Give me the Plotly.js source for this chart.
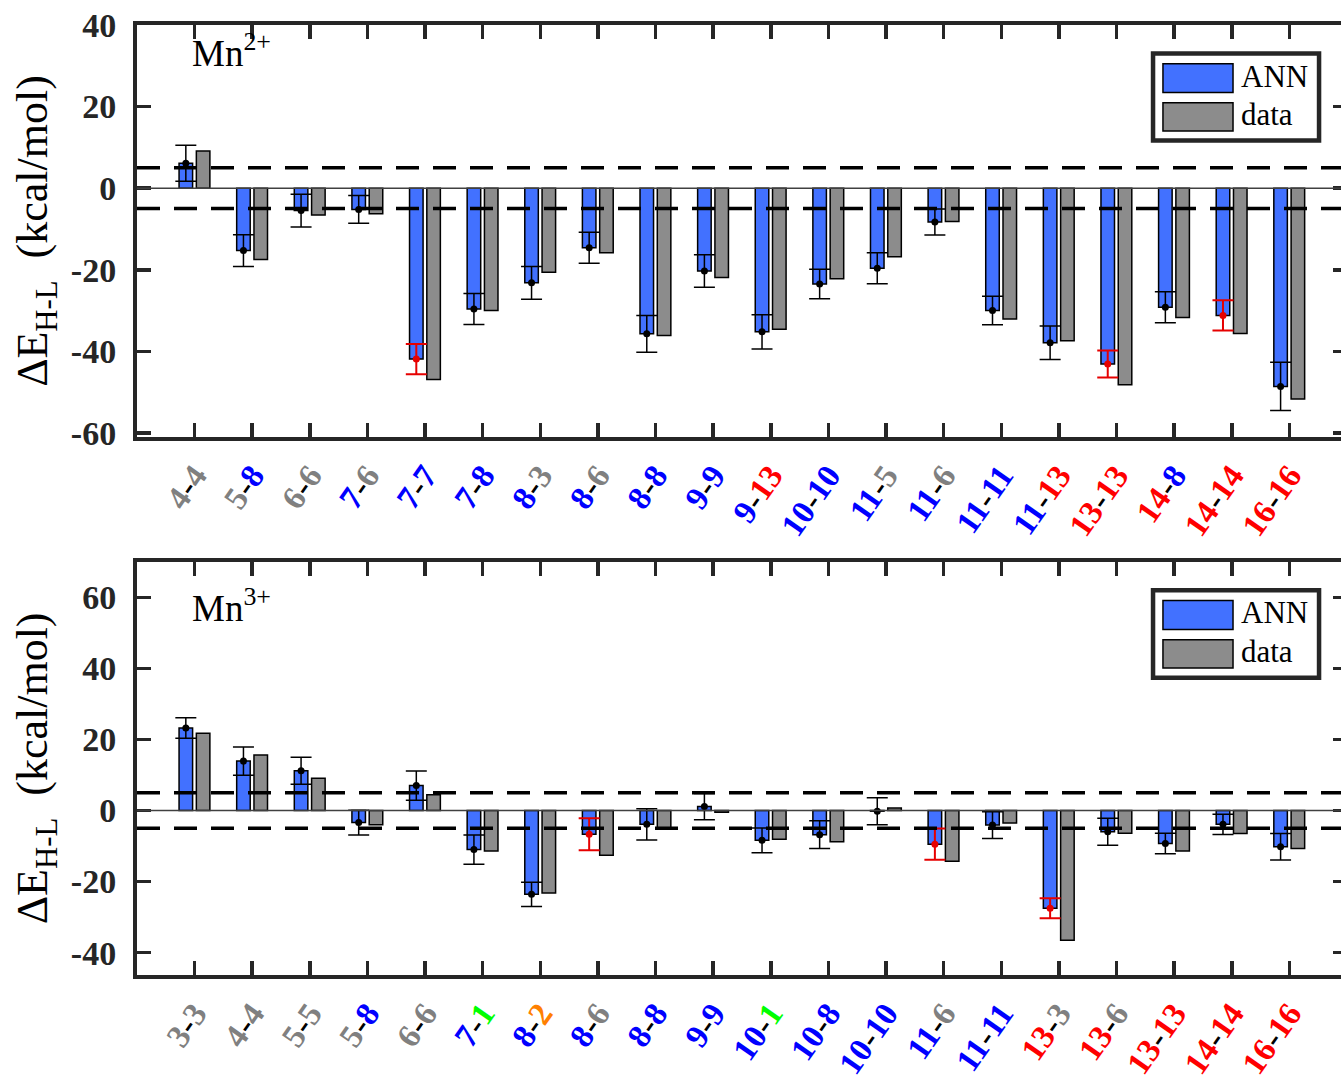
<!DOCTYPE html>
<html>
<head>
<meta charset="utf-8">
<script src="https://cdn.plot.ly/plotly-3.0.1.min.js"></script>
<style>
html,body{margin:0;padding:0;background:#fff;overflow:hidden;}
#chart{width:1352px;height:1085px;}
</style>
</head>
<body>
<div id="chart"></div>
<script>
// ---------- DATA: Mn2+ panel ----------
const topFirst   = ['4','5','6','7','7','7','8','8','8','9','9','10','11','11','11','11','13','14','14','16'];
const topSecond  = ['4','8','6','6','7','8','3','6','8','9','13','10','5','6','11','13','13','8','14','16'];
const topFirstColor  = ['gray','gray','gray','blue','blue','blue','blue','blue','blue','blue','blue','blue','blue','blue','blue','blue','red','red','red','red'];
const topSecondColor = ['gray','blue','gray','gray','blue','blue','gray','gray','blue','blue','red','blue','gray','gray','blue','red','red','blue','red','red'];
const topANN  = [6.1,-15.3,-5.5,-5.2,-41.9,-29.6,-23.2,-14.6,-35.7,-20.3,-35.2,-23.5,-19.6,-8.3,-30.0,-37.9,-43.1,-29.2,-31.2,-48.6];
const topErr  = [4.4,3.9,4.0,3.4,3.7,3.8,4.0,3.8,4.5,4.0,4.2,3.6,3.8,3.2,3.5,4.1,3.3,3.8,3.7,5.9];
const topData = [9.1,-17.5,-6.6,-6.3,-46.9,-30.0,-20.6,-15.8,-36.1,-21.9,-34.6,-22.2,-16.8,-8.2,-32.1,-37.4,-48.2,-31.7,-35.6,-51.7];
const topErrColor = ['k','k','k','k','r','k','k','k','k','k','k','k','k','k','k','k','r','k','r','k'];
const topYTicks = [-60,-40,-20,0,20,40];

// ---------- DATA: Mn3+ panel ----------
const botFirst   = ['3','4','5','5','6','7','8','8','8','9','10','10','10','11','11','13','13','13','14','16'];
const botSecond  = ['3','4','5','8','6','1','2','6','8','9','1','8','10','6','11','3','6','13','14','16'];
const botFirstColor  = ['gray','gray','gray','gray','gray','blue','blue','blue','blue','blue','blue','blue','blue','blue','blue','red','red','red','red','red'];
const botSecondColor = ['gray','gray','gray','blue','gray','green','orange','gray','blue','blue','green','blue','blue','gray','blue','gray','gray','red','red','red'];
const botANN  = [23.2,13.9,11.2,-3.4,7.0,-11.0,-23.6,-6.7,-3.9,1.1,-8.4,-6.8,-0.2,-9.5,-4.1,-27.5,-6.0,-9.3,-3.9,-10.2];
const botErr  = [2.9,4.0,3.8,3.5,4.1,4.1,3.4,4.5,4.4,3.7,3.5,3.9,3.8,4.4,3.75,2.8,3.8,2.9,2.85,3.75];
const botData = [21.7,15.6,9.1,-4.0,4.4,-11.4,-23.2,-12.6,-4.9,-0.5,-8.1,-8.8,0.7,-14.3,-3.5,-36.5,-6.4,-11.4,-6.5,-10.7];
const botErrColor = ['k','k','k','k','k','k','k','r','k','k','k','k','k','r','k','r','k','k','k','k'];
const botYTicks = [-40,-20,0,20,40,60];

const panelLabels = ['Mn<sup>2+</sup>','Mn<sup>3+</sup>'];
const seriesNames = ['ANN','data'];
const threshold = 5;

// ---------- STYLE ----------
const labelColors = {gray:'#808080', blue:'#0000FF', red:'#FF0000', green:'#00FF00', orange:'#FF8000'};
const BLUE = '#4271FF', GRAY = '#8C8C8C', AX = '#262626';
const SERIF = 'Liberation Serif';
const BW = 0.235, OFF_A = -0.27, OFF_D = 0.03;

function tickText(f, s, fc, sc){
  return f.map((v,i)=>'<span style="color:'+labelColors[fc[i]]+'">'+v+'</span><span style="color:#000">-</span><span style="color:'+labelColors[sc[i]]+'">'+s[i]+'</span>');
}

function panelTraces(ann, err, dat, ecol, xa, ya){
  const idx = ann.map((_,i)=>i);
  const tr = [];
  tr.push({type:'bar', x:idx, y:ann, width:BW, offset:OFF_A, name:seriesNames[0], showlegend:false,
    marker:{color:BLUE, line:{color:'#000', width:1.5}}, xaxis:xa, yaxis:ya, hoverinfo:'y'});
  tr.push({type:'bar', x:idx, y:dat, width:BW, offset:OFF_D, name:seriesNames[1], showlegend:false,
    marker:{color:GRAY, line:{color:'#000', width:1.5}}, xaxis:xa, yaxis:ya, hoverinfo:'y'});
  [['k','#000000',1.5],['r','#E60000',2]].forEach(([key,col,th])=>{
    const sel = idx.filter(i=>ecol[i]===key);
    tr.push({type:'scatter', mode:'markers', x:sel.map(i=>i+OFF_A+BW/2), y:sel.map(i=>ann[i]),
      error_y:{type:'data', array:sel.map(i=>err[i]), color:col, thickness:th, width:10.5},
      marker:{color:col, size:7}, showlegend:false, xaxis:xa, yaxis:ya, hoverinfo:'y'});
  });
  return tr;
}

const traces = [].concat(
  panelTraces(topANN, topErr, topData, topErrColor, 'x', 'y'),
  panelTraces(botANN, botErr, botData, botErrColor, 'x2', 'y2')
);

function xAxis(f, s, fc, sc, anchor){
  return {domain:[0,1], anchor:anchor, range:[-1,20], tickmode:'array',
    tickvals:f.map((_,i)=>i), ticktext:tickText(f,s,fc,sc), tickangle:-55,
    ticks:'inside', ticklen:14, tickwidth:3.5, tickcolor:AX, mirror:'ticks',
    showline:true, linewidth:4, linecolor:AX, showgrid:false, zeroline:false,
    ticklabelstandoff:2,
    tickfont:{family:SERIF, size:33, weight:'bold'}};
}
function yAxis(dom, rng, ticks, anchor){
  return {domain:dom, anchor:anchor, range:rng, tickmode:'array', tickvals:ticks,
    ticktext:ticks.map(v=>String(v)), ticks:'inside', ticklen:14, tickwidth:3.5, tickcolor:AX,
    mirror:'ticks', showline:true, linewidth:4, linecolor:AX, showgrid:false, zeroline:false,
    ticklabelstandoff:10,
    tickfont:{family:SERIF, size:34, weight:'bold', color:AX},
    title:{text:'\u0394E<sub>H-L</sub>\u00A0\u00A0(kcal/mol)', font:{family:SERIF, size:44, color:'#000'}, standoff:10}};
}

const shapes = [], annotations = [];
function panelDecor(xr, yr, label, labelY){
  const xd = xr+' domain', yd = yr+' domain';
  [threshold,-threshold].forEach(v=>shapes.push({type:'line', xref:xd, yref:yr, x0:0, x1:1, y0:v, y1:v,
    line:{color:'#000', width:3.5, dash:'23px,14px'}, layer:'above'}));
  shapes.push({type:'line', xref:xd, yref:yr, x0:0, x1:1, y0:0, y1:0, line:{color:'#404040', width:1.5}, layer:'above'});
  // legend box
  shapes.push({type:'rect', xref:xd, yref:yd, x0:0.8397, x1:0.9769, y0:0.7195, y1:0.931,
    fillcolor:'#fff', line:{color:AX, width:4.5}, layer:'above'});
  shapes.push({type:'rect', xref:xd, yref:yd, x0:0.8479, x1:0.9058, y0:0.836, y1:0.906,
    fillcolor:BLUE, line:{color:'#000', width:1.5}, layer:'above'});
  shapes.push({type:'rect', xref:xd, yref:yd, x0:0.8479, x1:0.9058, y0:0.743, y1:0.8115,
    fillcolor:GRAY, line:{color:'#000', width:1.5}, layer:'above'});
  annotations.push({xref:xd, yref:yd, x:0.9105, y:0.876, xanchor:'left', yanchor:'middle', showarrow:false,
    text:seriesNames[0], font:{family:SERIF, size:31, color:'#000'}});
  annotations.push({xref:xd, yref:yd, x:0.9105, y:0.782, xanchor:'left', yanchor:'middle', showarrow:false,
    text:seriesNames[1], font:{family:SERIF, size:31, color:'#000'}});
  annotations.push({xref:xd, yref:yd, x:0.044, y:labelY, xanchor:'left', yanchor:'middle', showarrow:false,
    text:label, font:{family:SERIF, size:37, color:'#000'}});
}
panelDecor('x','y',panelLabels[0],0.937);
panelDecor('x2','y2',panelLabels[1],0.895);

const layout = {
  width:1352, height:1085, margin:{l:137, r:5, t:25, b:110},
  paper_bgcolor:'#fff', plot_bgcolor:'#fff', barmode:'overlay', showlegend:false,
  xaxis: xAxis(topFirst, topSecond, topFirstColor, topSecondColor, 'y'),
  yaxis: yAxis([0.5663,1], [-61,40], topYTicks, 'x'),
  xaxis2: xAxis(botFirst, botSecond, botFirstColor, botSecondColor, 'y2'),
  yaxis2: yAxis([0,0.435], [-46.3,70], botYTicks, 'x2'),
  shapes:shapes, annotations:annotations
};
Plotly.newPlot('chart', traces, layout, {displayModeBar:false, staticPlot:true});
</script>
</body>
</html>
